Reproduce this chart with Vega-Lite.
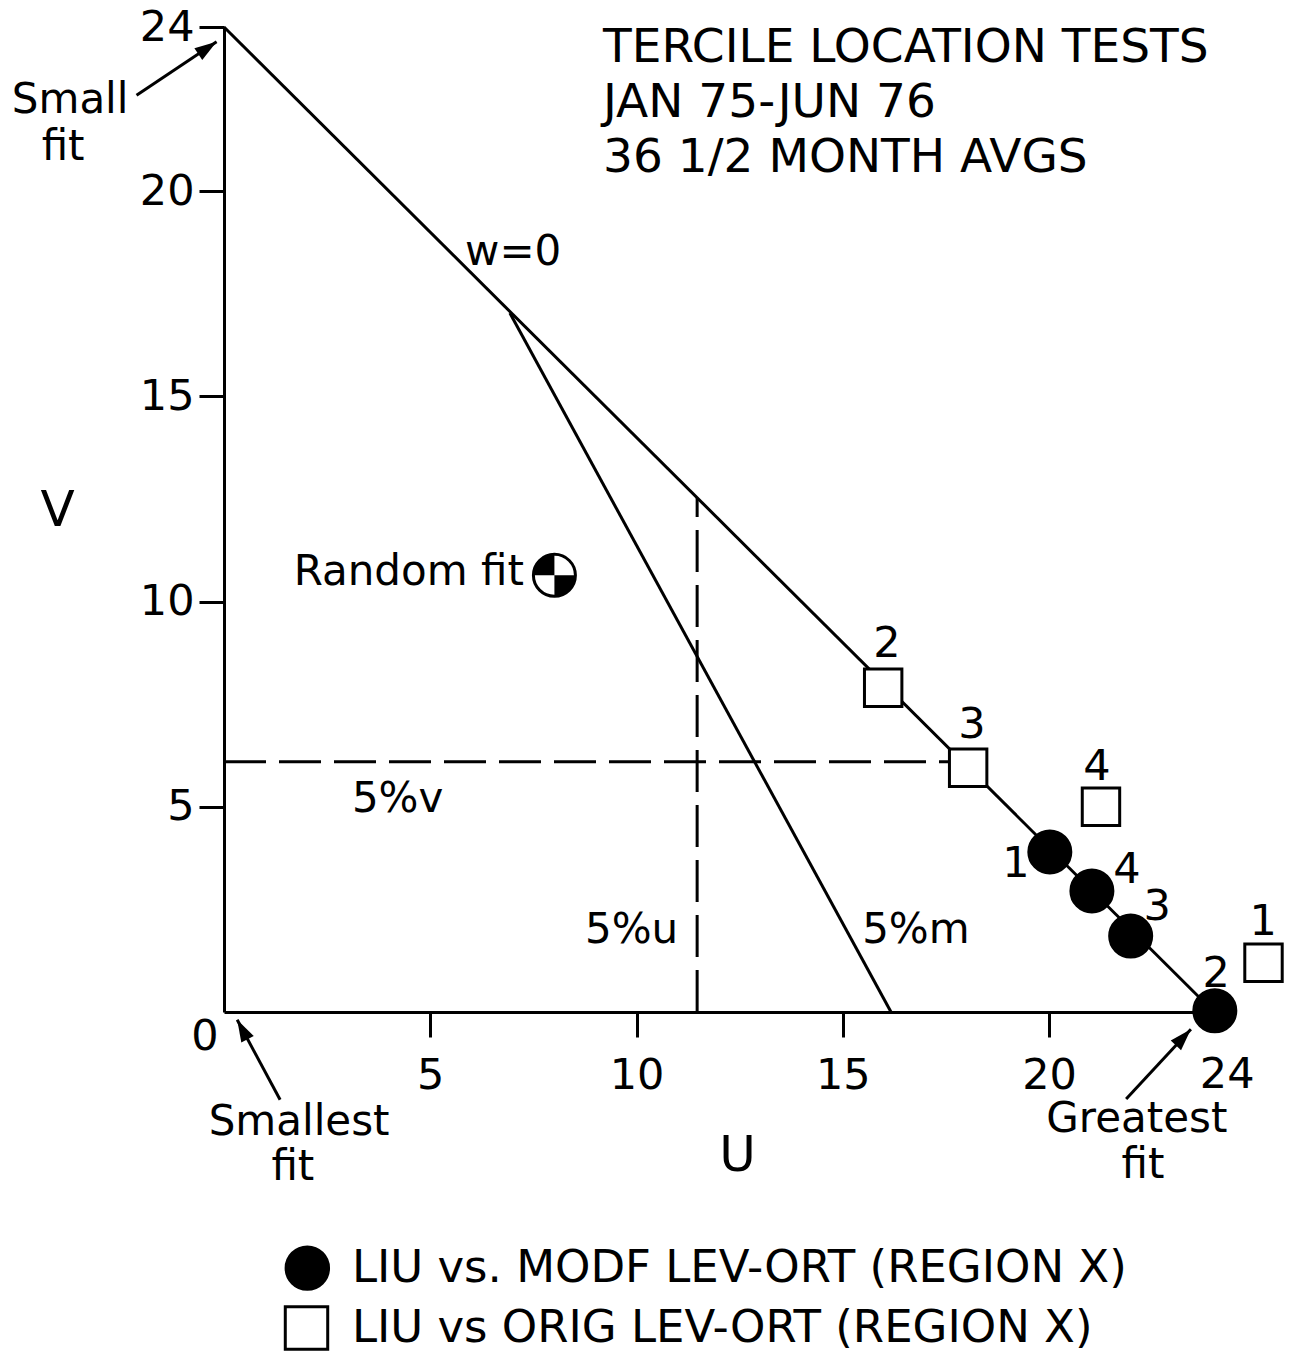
{
  "$schema": "https://vega.github.io/schema/vega-lite/v6.json",
  "width": 990,
  "height": 985,
  "autosize": {"type": "none"},
  "padding": {"left": 224, "top": 27, "right": 77, "bottom": 340},
  "background": "white",
  "config": {
    "view": {"stroke": null},
    "font": "DejaVu Sans",
    "axis": {
      "domainColor": "black", "domainWidth": 3, "tickColor": "black", "tickWidth": 3, "tickSize": 25,
      "grid": false, "labelFont": "DejaVu Sans", "labelFontSize": 43, "labelColor": "black",
      "titleFont": "DejaVu Sans", "titleColor": "black", "titleFontWeight": "normal", "titleFontSize": 50,
      "labelOverlap": false, "labelFlush": false
    },
    "text": {"font": "DejaVu Sans", "color": "black"}
  },
  "datasets": {
    "segments": [
      {"line": "w=0", "style": "solid", "u": 0, "v": 24, "u2": 24, "v2": 0},
      {"line": "5%m", "style": "solid", "u": 6.93, "v": 17.03, "u2": 16.17, "v2": 0},
      {"line": "5%u", "style": "dashed", "u": 11.47, "v": 0, "u2": 11.47, "v2": 12.53},
      {"line": "5%v", "style": "dashed", "u": 0, "v": 6.1, "u2": 17.9, "v2": 6.1}
    ],
    "points": [
      {"series": "MODF", "id": "1", "u": 20.02, "v": 3.9},
      {"series": "MODF", "id": "4", "u": 21.04, "v": 2.95},
      {"series": "MODF", "id": "3", "u": 21.98, "v": 1.85},
      {"series": "MODF", "id": "2", "u": 24.02, "v": 0.03},
      {"series": "ORIG", "id": "2", "u": 15.98, "v": 7.9},
      {"series": "ORIG", "id": "3", "u": 18.04, "v": 5.95},
      {"series": "ORIG", "id": "4", "u": 21.26, "v": 5.0},
      {"series": "ORIG", "id": "1", "u": 25.2, "v": 1.2}
    ],
    "legendSymbols": [
      {"series": "MODF", "u": 2.02, "v": -6.24},
      {"series": "ORIG", "u": 2.0, "v": -7.7}
    ],
    "random": [{"name": "Random fit", "u": 8.01, "v": 10.64}],
    "arrows": [
      {"name": "small", "u": -2.12, "v": 22.34, "u2": -0.18, "v2": 23.64},
      {"name": "smallest", "u": 1.36, "v": -2.14, "u2": 0.32, "v2": -0.19},
      {"name": "greatest", "u": 21.87, "v": -2.12, "u2": 23.44, "v2": -0.42}
    ],
    "notes": [
      {"kind": "title", "text": "TERCILE LOCATION TESTS", "u": 9.19, "v": 23.15},
      {"kind": "title", "text": "JAN 75-JUN 76", "u": 9.19, "v": 21.81},
      {"kind": "title", "text": "36 1/2 MONTH AVGS", "u": 9.19, "v": 20.47},
      {"kind": "center", "text": "Small", "u": -3.73, "v": 21.91},
      {"kind": "center", "text": "fit", "u": -3.9, "v": 20.76},
      {"kind": "center", "text": "Smallest", "u": 1.82, "v": -2.99},
      {"kind": "center", "text": "fit", "u": 1.67, "v": -4.09},
      {"kind": "center", "text": "Greatest", "u": 22.13, "v": -2.92},
      {"kind": "center", "text": "fit", "u": 22.28, "v": -4.04},
      {"kind": "center", "text": "w=0", "u": 7.01, "v": 18.2},
      {"kind": "left", "text": "5%v", "u": 3.1, "v": 4.87},
      {"kind": "left", "text": "5%u", "u": 8.75, "v": 1.68},
      {"kind": "left", "text": "5%m", "u": 15.47, "v": 1.68},
      {"kind": "right", "text": "Random fit", "u": 7.27, "v": 10.4},
      {"kind": "tick", "text": "0", "u": -0.46, "v": -0.93},
      {"kind": "tick", "text": "24", "u": 24.32, "v": -1.85},
      {"kind": "plabel", "text": "1", "u": 19.2, "v": 3.29},
      {"kind": "plabel", "text": "4", "u": 21.89, "v": 3.14},
      {"kind": "plabel", "text": "3", "u": 22.62, "v": 2.24},
      {"kind": "plabel", "text": "2", "u": 24.05, "v": 0.61},
      {"kind": "plabel", "text": "2", "u": 16.07, "v": 8.65},
      {"kind": "plabel", "text": "3", "u": 18.13, "v": 6.68},
      {"kind": "plabel", "text": "4", "u": 21.16, "v": 5.65},
      {"kind": "plabel", "text": "1", "u": 25.19, "v": 1.88},
      {"kind": "legend", "text": "LIU vs. MODF LEV-ORT (REGION X)", "u": 3.1, "v": -6.58},
      {"kind": "legend", "text": "LIU vs ORIG LEV-ORT (REGION X)", "u": 3.1, "v": -8.04}
    ]
  },
  "encoding": {
    "x": {
      "field": "u", "type": "quantitative",
      "scale": {"domain": [0, 24], "nice": false, "zero": false},
      "axis": {"values": [5, 10, 15, 20], "title": "U", "titleX": 513, "titleY": 158, "titleBaseline": "alphabetic", "titleAlign": "center", "labelPadding": 17}
    },
    "y": {
      "field": "v", "type": "quantitative",
      "scale": {"domain": [0, 24], "nice": false, "zero": false},
      "axis": {"values": [5, 10, 15, 20, 24], "title": "V", "titleAngle": 0, "titleX": -167, "titleY": 498, "titleAlign": "center", "titleBaseline": "alphabetic", "labelPadding": 5}
    }
  },
  "layer": [
    {
      "data": {"name": "segments"},
      "transform": [{"filter": "datum.style == 'solid'"}],
      "mark": {"type": "rule", "color": "black", "strokeWidth": 3},
      "encoding": {"x2": {"field": "u2"}, "y2": {"field": "v2"}}
    },
    {
      "data": {"name": "segments"},
      "transform": [{"filter": "datum.style == 'dashed'"}],
      "mark": {"type": "rule", "color": "black", "strokeWidth": 3, "strokeDash": [42, 13]},
      "encoding": {"x2": {"field": "u2"}, "y2": {"field": "v2"}}
    },
    {
      "data": {"name": "arrows"},
      "mark": {"type": "rule", "color": "black", "strokeWidth": 3},
      "encoding": {"x2": {"field": "u2"}, "y2": {"field": "v2"}}
    },
    {
      "data": {"name": "arrows"},
      "transform": [{"filter": "datum.name == 'small'"}],
      "mark": {"type": "point", "shape": "M0,0L-0.32,1L0.32,1Z", "filled": true, "color": "black", "opacity": 1, "size": 1936, "angle": 56},
      "encoding": {"x": {"field": "u2", "type": "quantitative"}, "y": {"field": "v2", "type": "quantitative"}}
    },
    {
      "data": {"name": "arrows"},
      "transform": [{"filter": "datum.name == 'smallest'"}],
      "mark": {"type": "point", "shape": "M0,0L-0.32,1L0.32,1Z", "filled": true, "color": "black", "opacity": 1, "size": 1936, "angle": 332},
      "encoding": {"x": {"field": "u2", "type": "quantitative"}, "y": {"field": "v2", "type": "quantitative"}}
    },
    {
      "data": {"name": "arrows"},
      "transform": [{"filter": "datum.name == 'greatest'"}],
      "mark": {"type": "point", "shape": "M0,0L-0.32,1L0.32,1Z", "filled": true, "color": "black", "opacity": 1, "size": 1936, "angle": 43},
      "encoding": {"x": {"field": "u2", "type": "quantitative"}, "y": {"field": "v2", "type": "quantitative"}}
    },
    {
      "data": {"name": "points"},
      "mark": {"type": "point", "filled": true, "stroke": "black", "strokeWidth": 3, "opacity": 1},
      "encoding": {
        "shape": {"field": "series", "type": "nominal", "scale": {"domain": ["MODF", "ORIG"], "range": ["circle", "square"]}, "legend": null},
        "fill": {"field": "series", "type": "nominal", "scale": {"domain": ["MODF", "ORIG"], "range": ["black", "white"]}, "legend": null},
        "size": {"field": "series", "type": "ordinal", "scale": {"domain": ["MODF", "ORIG"], "range": [1764, 1400]}, "legend": null}
      }
    },
    {
      "data": {"name": "legendSymbols"},
      "mark": {"type": "point", "filled": true, "stroke": "black", "strokeWidth": 3, "opacity": 1},
      "encoding": {
        "shape": {"field": "series", "type": "nominal", "legend": null},
        "fill": {"field": "series", "type": "nominal", "legend": null},
        "size": {"value": 1800}
      }
    },
    {
      "data": {"name": "random"},
      "mark": {"type": "point", "shape": "circle", "filled": true, "fill": "white", "stroke": "black", "strokeWidth": 3, "opacity": 1, "size": 1764}
    },
    {
      "data": {"name": "random"},
      "mark": {"type": "point", "shape": "M0,0L-1,0A1,1 0 0,1 0,-1Z M0,0L1,0A1,1 0 0,1 0,1Z", "filled": true, "fill": "black", "strokeWidth": 0, "opacity": 1, "size": 1764}
    },
    {
      "data": {"name": "notes"},
      "transform": [{"filter": "datum.kind == 'title'"}],
      "mark": {"type": "text", "align": "left", "baseline": "alphabetic", "fontSize": 47},
      "encoding": {"text": {"field": "text"}}
    },
    {
      "data": {"name": "notes"},
      "transform": [{"filter": "datum.kind == 'center'"}],
      "mark": {"type": "text", "align": "center", "baseline": "alphabetic", "fontSize": 42},
      "encoding": {"text": {"field": "text"}}
    },
    {
      "data": {"name": "notes"},
      "transform": [{"filter": "datum.kind == 'left'"}],
      "mark": {"type": "text", "align": "left", "baseline": "alphabetic", "fontSize": 42},
      "encoding": {"text": {"field": "text"}}
    },
    {
      "data": {"name": "notes"},
      "transform": [{"filter": "datum.kind == 'right'"}],
      "mark": {"type": "text", "align": "right", "baseline": "alphabetic", "fontSize": 42},
      "encoding": {"text": {"field": "text"}}
    },
    {
      "data": {"name": "notes"},
      "transform": [{"filter": "datum.kind == 'tick' || datum.kind == 'plabel'"}],
      "mark": {"type": "text", "align": "center", "baseline": "alphabetic", "fontSize": 43},
      "encoding": {"text": {"field": "text"}}
    },
    {
      "data": {"name": "notes"},
      "transform": [{"filter": "datum.kind == 'legend'"}],
      "mark": {"type": "text", "align": "left", "baseline": "alphabetic", "fontSize": 45},
      "encoding": {"text": {"field": "text"}}
    }
  ]
}
